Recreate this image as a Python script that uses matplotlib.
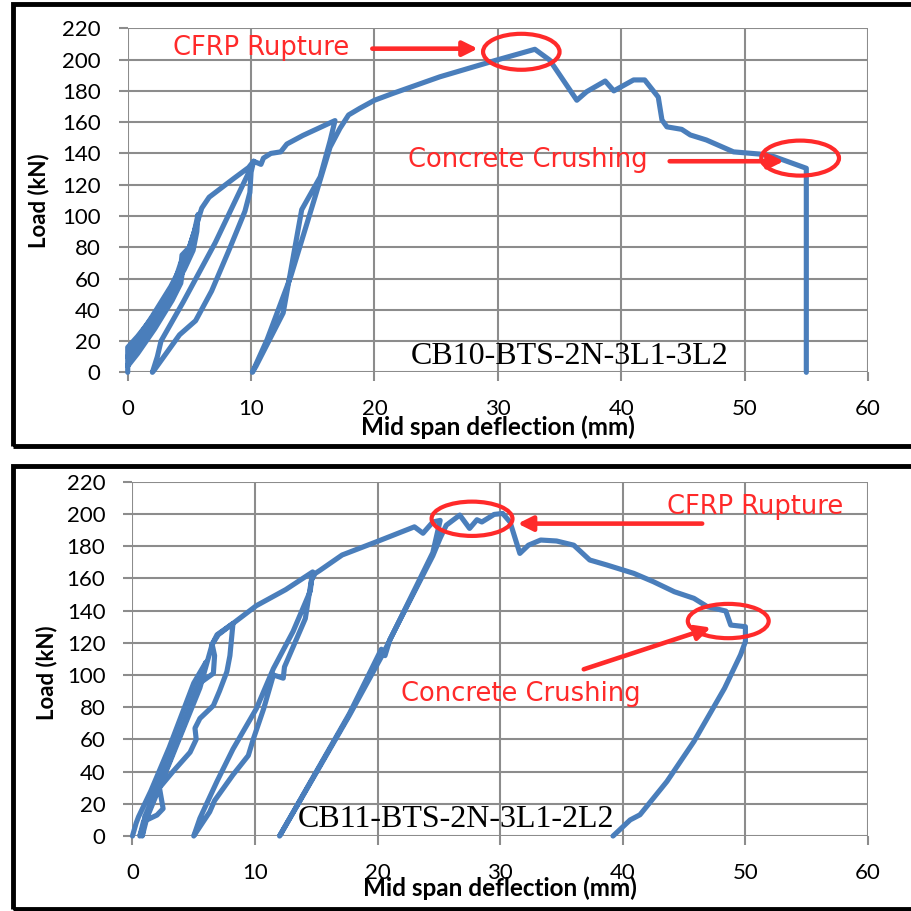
import matplotlib
matplotlib.use("Agg")
import matplotlib.pyplot as plt
from matplotlib.patches import Ellipse, Rectangle

# CB10 (top panel) - mid span deflection (mm) vs load (kN)
top_defl = [0, 0, 0.8, 2, 3, 3.8, 4.3, 4.5,
            4.3, 3.6, 2.2, 0.8, 0,
            0.3, 1.6, 3, 4.2, 4.4, 5, 5.4, 5.7,
            5.6, 5.3, 4.6, 3.6, 2.6, 1.4, 0.2, 0,
            0.5, 2, 3.5, 4.8, 5.6, 6.0, 6.6, 7.6, 8.6, 9.8, 10.2,
            10.0, 9.9, 9.5, 8.2, 6.8, 5.5, 4.2, 2.2, 2,
            2.4, 2.7, 4.5, 7.1, 9.7, 10.2,
            10.8, 11.0, 11.6, 12.4, 12.9, 14.2, 16.8,
            16.4, 15.6, 14.1, 12.6, 10.4, 10.1,
            11.3, 13.2, 15.1, 16.4, 17.2, 17.9, 18.8, 20, 21.5, 25.3, 29.9, 33.0,
            34.2, 36.4, 37.2, 38.7, 39.4, 41.0, 41.9, 43.0, 43.3, 43.7, 44.9,
            45.6, 46.9, 49.1, 51.2, 52.4, 55.0, 55.0]
top_load = [0, 16, 23, 35, 47, 58, 70, 68,
            57, 46, 28, 12, 4,
            12, 28, 44, 60, 75, 80, 90, 101,
            90, 78, 66, 52, 38, 22, 8, 10,
            18, 36, 55, 75, 95, 105, 112, 118, 124, 131, 135,
            128, 115, 103, 78, 52, 33, 24, 2, 0,
            10, 20, 45, 83, 126, 135,
            133, 137, 140, 141, 146, 151.5, 161,
            148, 125, 104, 38, 4, 0,
            21, 61, 110, 144, 156, 164.6, 168.8, 174, 178.4, 189, 199.7, 206.6,
            199.7, 174, 179.5, 186.3, 180, 187, 187, 176, 161.4, 157, 155.4,
            151.8, 148.6, 141, 139.6, 137.9, 130.5, 0]

# CB11 (bottom panel)
bot_defl = [0, 0.3, 0.5, 1.5, 3, 4, 5, 6.0,
            5.7, 4.5, 3, 2, 1.3, 0.8,
            1.0, 2.5, 4, 5.5, 6.6, 6.7, 6.5, 6.9, 8.2,
            7.95, 7.7, 7.1, 6.6, 5.5, 5.1, 5.2, 4.7, 3.3, 2.2, 2.5, 2.0, 0.9, 0.6,
            1.0, 3, 5.5, 6.5, 7, 8.2, 10.1, 12.5, 14.7,
            14.5, 13.1, 11.5, 10.1, 8.2, 6.9, 5.5, 5,
            6.3, 6.7, 8.2, 9.45, 9.85, 10.7, 11.5, 12.3, 12.4, 14.1, 14.6, 14.9,
            15.3, 17.1, 20, 23, 23.7, 24.5, 25.1,
            24.5, 20.5, 17.7, 12,
            17.7, 20.3, 20.6, 21, 24.5, 25.1, 25.6, 26.7, 27.5, 28.1, 28.5, 29.5,
            30.2, 30.8, 31.6, 32.3, 33.3, 34.6, 36.0, 37.3, 38.7, 40.9, 42.5,
            44.2, 45.8, 46.9, 48.4, 48.8, 50.0, 50.0, 49.6, 48.3, 45.8, 43.6,
            41.4, 40.6, 39.2]
bot_load = [0, 8, 12, 28, 55, 75, 95, 108,
            100, 76, 46, 28, 15, 0,
            12, 38, 65, 95, 101, 112, 119, 125, 132,
            112, 102, 90, 81, 73, 67, 60, 52, 40, 30, 17, 13, 9, 0,
            8, 45, 92, 119, 125, 132, 143, 153, 164,
            152, 127, 104, 79, 54, 34, 11, 0,
            15, 22, 38, 50, 60, 79, 100, 98, 105, 135, 159, 163,
            165, 174.5, 183, 192, 188, 195, 196,
            176, 114, 75, 0,
            76, 116, 112, 122, 174, 185, 193, 199.3, 191, 196.4, 195, 199.7,
            200.3, 195, 175.5, 180.6, 183.8, 183.2, 180.6, 171.4, 168.3, 163.1, 157.9,
            151.7, 147.6, 142.4, 139.7, 131, 130, 120.7, 112.5, 91.8, 58.7, 33.9,
            13.2, 10, 0]

x_ticks = [0, 10, 20, 30, 40, 50, 60]
y_ticks = list(range(0, 221, 20))

BLUE = "#4a7ebb"
RED = "#ff2a2a"
GRID = "#8c8c8c"
SANS = ["Lato", "DejaVu Sans"]

fig = plt.figure(figsize=(9.11, 9.11), dpi=100)
fig.patch.set_facecolor("white")


def make_panel(rect, defl, load, name, name_xy):
    ax = fig.add_axes(rect)
    ax.plot(defl, load, color=BLUE, lw=3.7, solid_joinstyle="round",
            solid_capstyle="round", zorder=3, clip_on=False)
    ax.set_xlim(0, 60)
    ax.set_ylim(0, 220)
    ax.set_xticks(x_ticks)
    ax.set_yticks(y_ticks)
    ax.grid(True, color=GRID, lw=1.5, zorder=0)
    for s in ax.spines.values():
        s.set_visible(False)
    ax.tick_params(length=6.5, width=1.5, color=GRID, labelsize=16)
    ax.tick_params(axis="y", pad=13)
    ax.tick_params(axis="x", pad=13)
    for lab in ax.get_xticklabels() + ax.get_yticklabels():
        lab.set_family(SANS)
    ax.set_xlabel("Mid span deflection (mm)", fontsize=17.5, fontweight="bold", family=SANS)
    ax.set_ylabel("Load (kN)", fontsize=16, fontweight="bold", family=SANS)
    ax.xaxis.label.set_va("center")
    ax.yaxis.label.set_va("center")
    ax.text(name_xy[0], name_xy[1], name, fontsize=23, family="Liberation Serif",
            ha="left", va="center", zorder=4)
    return ax


def red_note(ax, text, txt_xy, arrow_from, arrow_to, ell_xy, ell_w, ell_h):
    ax.text(txt_xy[0], txt_xy[1], text, color=RED, fontsize=18.5,
            family="DejaVu Sans", ha="left", va="center", zorder=5)
    ax.annotate("", xy=arrow_to, xytext=arrow_from,
                arrowprops=dict(arrowstyle="-|>", color=RED, lw=3.3, mutation_scale=22),
                zorder=5)
    ax.add_patch(Ellipse(ell_xy, ell_w, ell_h, fill=False, ec=RED, lw=3, zorder=5))


# top panel
ax1 = make_panel([0.1402, 0.5913, 0.8126, 0.3776], top_defl, top_load,
                 "CB10-BTS-2N-3L1-3L2", (22.9, 10))
ax1.xaxis.set_label_coords(0.5, -0.159)
ax1.yaxis.set_label_coords(-0.121, 0.5)
red_note(ax1, "CFRP Rupture", (3.7, 207.5), (19.6, 207), (28.6, 207), (31.9, 205), 6.2, 23)
red_note(ax1, "Concrete Crushing", (22.7, 136), (43.7, 135), (53.4, 135), (54.5, 137), 6.3, 22.4)

# bottom panel
ax2 = make_panel([0.1454, 0.0823, 0.8074, 0.3889], bot_defl, bot_load,
                 "CB11-BTS-2N-3L1-2L2", (13.5, 10.5))
ax2.xaxis.set_label_coords(0.5, -0.1476)
ax2.yaxis.set_label_coords(-0.117, 0.46)
red_note(ax2, "CFRP Rupture", (43.6, 204.5), (46.7, 194), (31.2, 194), (27.7, 197), 6.6, 21.3)
red_note(ax2, "Concrete Crushing", (21.9, 88), (36.6, 103), (47.4, 130), (48.6, 133.5), 6.6, 21.3)

# black frames around each panel
W = 911.0
for top_px, bot_px in [(3.5, 445.5), (465.5, 908.5)]:
    fig.patches.append(Rectangle((12.5 / W, 1 - bot_px / W), 1.05, (bot_px - top_px) / W,
                                 transform=fig.transFigure, fill=False, ec="black",
                                 lw=3.5, zorder=10))

fig.savefig("out.png", dpi=100)
